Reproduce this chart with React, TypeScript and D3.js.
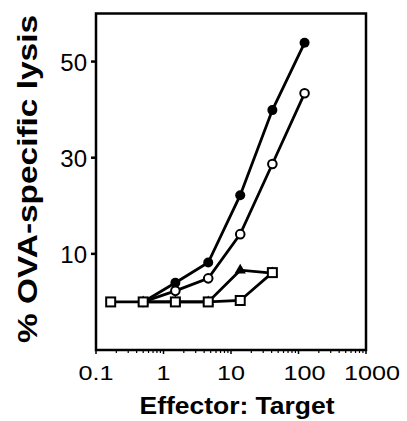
import React from 'react';
import * as d3 from 'd3';

const filledET = [0.5, 1.5, 4.6, 13.7, 41, 123];
const filledLysis = [0, 4.0, 8.2, 22.2, 39.9, 53.9];
const openET = [0.5, 1.5, 4.6, 13.7, 41, 123];
const openLysis = [0, 2.3, 4.9, 14.1, 28.7, 43.4];
const triangleET = [0.5, 1.5, 4.6, 13.7, 41];
const triangleLysis = [0, 0, 0, 6.6, 6.0];
const squareET = [0.165, 0.5, 1.5, 4.6, 13.7, 41];
const squareLysis = [0, 0, 0, 0, 0.3, 6.1];
const xTicks = [0.1, 1, 10, 100, 1000];
const yTicks = [10, 30, 50];

const W = 407, H = 421;
const L = 96, R = 366, T = 13.5, B = 350;

export default function App() {
  const x = d3.scaleLog().domain([0.1, 1000]).range([L, R]);
  const y = d3.scaleLinear().domain([-10, 60]).range([B, T]);
  const line = d3.line<[number, number]>().x(d => x(d[0])).y(d => y(d[1]));
  const zip = (a: number[], b: number[]) => a.map((v, i) => [v, b[i]] as [number, number]);
  const filled = zip(filledET, filledLysis);
  const open = zip(openET, openLysis);
  const tri = zip(triangleET, triangleLysis);
  const sq = zip(squareET, squareLysis);
  const minor: number[] = [];
  for (let e = -1; e < 3; e++) for (let k = 2; k <= 9; k++) minor.push(k * Math.pow(10, e));
  const triPath = d3.symbol().type(d3.symbolTriangle).size(55)() as string;
  const font = '"Liberation Sans", Arial, Helvetica, sans-serif';
  const lw = 2.8;
  return (
    <svg width={W} height={H} style={{ position: 'absolute', left: 0, top: 0, background: '#fff' }}>
      <rect x={L} y={T} width={R - L} height={B - T} fill="none" stroke="#000" strokeWidth={2.5} />
      {minor.map((v, i) => (
        <line key={'m' + i} x1={x(v)} x2={x(v)} y1={B} y2={B + 3} stroke="#000" strokeWidth={1.2} />
      ))}
      {xTicks.map((v, i) => (
        <g key={'x' + i}>
          <line x1={x(v)} x2={x(v)} y1={B} y2={B + 4} stroke="#000" strokeWidth={1.5} />
          <text x={x(v) + (i >= 3 ? 5 : 0)} y={380} textAnchor="middle" fontFamily={font} fontSize={21}
            transform={`translate(${x(v)},0) scale(1.2,1) translate(${-x(v)},0)`}>{v}</text>
        </g>
      ))}
      {yTicks.map((v, i) => (
        <g key={'y' + i}>
          <line x1={L - 5} x2={L} y1={y(v)} y2={y(v)} stroke="#000" strokeWidth={2.5} />
          <text x={87} y={y(v)} dy="0.4em" textAnchor="end" fontFamily={font} fontSize={24}>{v}</text>
        </g>
      ))}
      <text x={237} y={414} textAnchor="middle" fontFamily={font} fontSize={24} fontWeight="bold"
        textLength={195} lengthAdjust="spacingAndGlyphs">Effector: Target</text>
      <text transform="translate(37,179) rotate(-90)" textAnchor="middle" fontFamily={font} fontSize={27}
        fontWeight="bold" textLength={328} lengthAdjust="spacingAndGlyphs">% OVA-specific lysis</text>
      <path d={line(filled) as string} fill="none" stroke="#000" strokeWidth={lw} />
      <path d={line(open) as string} fill="none" stroke="#000" strokeWidth={lw} />
      <path d={line(tri) as string} fill="none" stroke="#000" strokeWidth={lw} />
      <path d={line(sq) as string} fill="none" stroke="#000" strokeWidth={lw} />
      {filled.map((d, i) => (
        <circle key={'f' + i} cx={x(d[0])} cy={y(d[1])} r={5} fill="#000" />
      ))}
      {open.map((d, i) => (
        <circle key={'o' + i} cx={x(d[0])} cy={y(d[1])} r={4.3} fill="#fff" stroke="#000" strokeWidth={2} />
      ))}
      {tri.map((d, i) => (
        <path key={'t' + i} d={triPath} transform={`translate(${x(d[0])},${y(d[1])})`} fill="#000" />
      ))}
      {sq.map((d, i) => (
        <rect key={'s' + i} x={x(d[0]) - 4.5} y={y(d[1]) - 4.5} width={9} height={9} fill="#fff" stroke="#000" strokeWidth={2} />
      ))}
    </svg>
  );
}
